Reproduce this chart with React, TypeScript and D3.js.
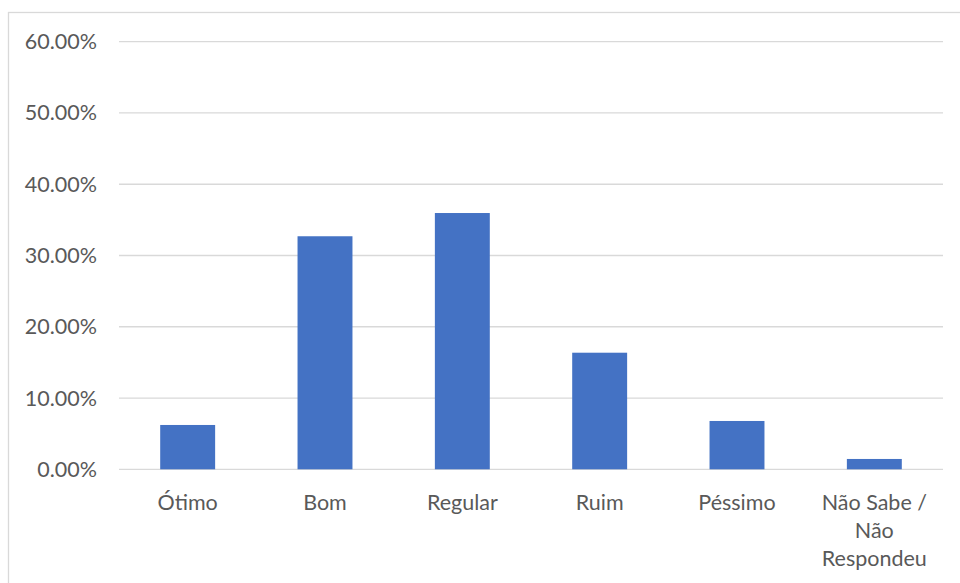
import React from "react";
import * as d3 from "d3";

const categories: string[][] = [
  ["Ótimo"],
  ["Bom"],
  ["Regular"],
  ["Ruim"],
  ["Péssimo"],
  ["Não Sabe /", "Não", "Respondeu"],
];
const values: number[] = [0.0622, 0.327, 0.3596, 0.1636, 0.0678, 0.0145];
const yTicks: number[] = [0, 0.1, 0.2, 0.3, 0.4, 0.5, 0.6];

const W = 960;
const H = 583;
const FONT = "Lato, 'Open Sans', sans-serif";

export default function App() {
  const x = d3
    .scaleBand<number>()
    .domain(d3.range(categories.length))
    .range([119, 943])
    .paddingInner(0.6)
    .paddingOuter(0.3);
  const y = d3.scaleLinear().domain([0, 0.6]).range([469.3, 41.7]);
  const fmt = (v: number) => (v * 100).toFixed(2) + "%";

  return (
    <svg
      width={W}
      height={H}
      style={{ position: "absolute", left: 0, top: 0, background: "#fff" }}
    >
      <rect x={8.5} y={12.5} width={1000} height={700} fill="#fff" stroke="#d9d9d9" strokeWidth={1.3} />
      {yTicks.map((t) => (
        <g key={t}>
          <line x1={119} x2={943} y1={y(t)} y2={y(t)} stroke="#d9d9d9" strokeWidth={1.3} />
          <text
            x={97}
            y={y(t)}
            dy="0.35em"
            textAnchor="end"
            fontFamily={FONT}
            fontSize={21.5}
            fill="#595959"
          >
            {fmt(t)}
          </text>
        </g>
      ))}
      {values.map((v, i) => (
        <rect
          key={i}
          x={x(i)}
          y={y(v)}
          width={x.bandwidth()}
          height={y(0) - y(v)}
          fill="#4472C4"
        />
      ))}
      {categories.map((lines, i) => (
        <text
          key={i}
          x={(x(i) as number) + x.bandwidth() / 2}
          y={509.5}
          textAnchor="middle"
          fontFamily={FONT}
          fontSize={21.5}
          fill="#595959"
        >
          {lines.map((l, j) => (
            <tspan key={j} x={(x(i) as number) + x.bandwidth() / 2} dy={j === 0 ? 0 : 28}>
              {l}
            </tspan>
          ))}
        </text>
      ))}
    </svg>
  );
}
